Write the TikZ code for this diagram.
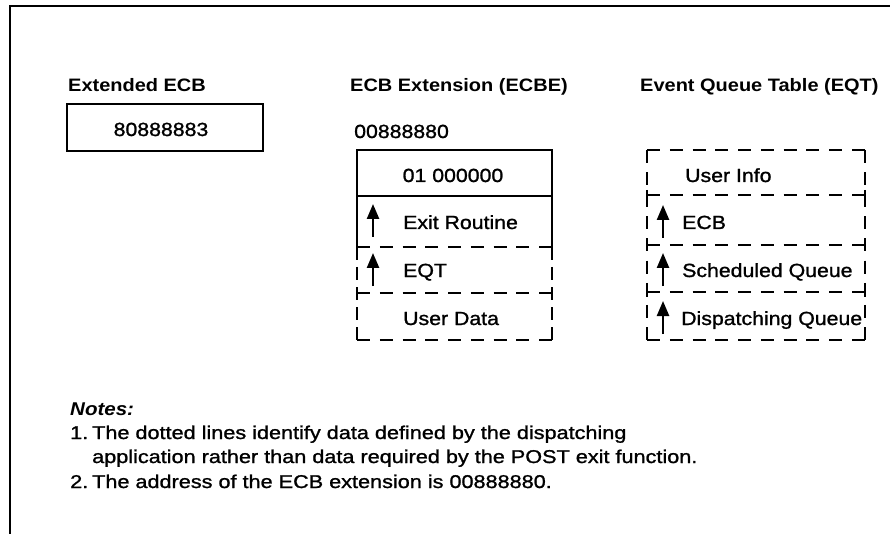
\documentclass[tikz,border=0pt]{standalone}
\usepackage{fontspec}
\setmainfont{Liberation Sans}[FakeStretch=1.12, FakeBold=1.2]
\newfontfamily\headfont{Liberation Sans}[FakeStretch=1.11]
\newfontfamily\notefont{Liberation Sans}[FakeStretch=1.17, FakeBold=1.2]
\usetikzlibrary{arrows.meta}
\begin{document}
\begin{tikzpicture}[x=1pt,y=-1pt,
  solidline/.style={line width=2.4pt},
  dashbase/.style={line width=2.4pt},
  dashEH/.style={dashbase, dash pattern=on 13pt off 9.75pt},
  dashEV/.style={dashbase, dash pattern=on 13pt off 7pt},
  dashQH/.style={dashbase, dash pattern=on 13pt off 9.78pt},
  dashQV/.style={dashbase, dash pattern=on 13pt off 9.125pt},
  tickline/.style={line width=2.4pt},
  uparrow/.style={line width=2.4pt, -{Triangle[width=12pt,length=15pt]}},
  title/.style={anchor=base west, inner sep=0pt, font=\headfont\bfseries\fontsize{18}{22}\selectfont},
  cell/.style={anchor=base west, inner sep=0pt, font=\fontsize{19}{23}\selectfont},
  note/.style={anchor=base west, inner sep=0pt, font=\notefont\fontsize{18.5}{25}\selectfont},
]
\useasboundingbox (0,0) rectangle (890,534);
\fill[white] (0,0) rectangle (890,534);

% frame
\coordinate (fb) at (10,534);
\coordinate (ftl) at (10,6);
\coordinate (fr) at (890,6);
\draw[solidline] (fb) -- (ftl) -- (fr);

% titles
\node[title] (t1) at (68,92) {Extended ECB};
\node[title] (t2) at (350,92) {ECB Extension (ECBE)};
\node[title] (t3) at (640,92) {Event Queue Table (EQT)};

% Extended ECB box
\node[draw, solidline, minimum width=196pt, minimum height=47pt, inner sep=0pt] (ecb) at (165,127.5) {};
\node[cell, anchor=base] (ecbval) at (161,136) {80888883};

% ECBE
\node[cell] (addr) at (354,138) {00888880};
\draw[solidline] (357,247) -- (357,150) -- (552,150) -- (552,247);
\draw[solidline] (357,196) -- (552,196);
\draw[dashEH] (357,247) -- (552,247);
\draw[dashEH] (357,293) -- (552,293);
\draw[dashEH] (357,340) -- (552,340);
\draw[dashEV] (357,247) -- (357,340);
\draw[dashEV] (552,247) -- (552,340);
\draw[tickline] (357,288) -- (357,298);
\draw[tickline] (552,288) -- (552,298);

\node[cell, anchor=base] (c1) at (453,182) {01 000000};
\node[cell] (c2) at (403,229) {Exit Routine};
\node[cell] (c3) at (403,277) {EQT};
\node[cell] (c4) at (403,325) {User Data};

\coordinate (a1s) at (373,237); \coordinate (a1e) at (373,204);
\coordinate (a2s) at (373,286); \coordinate (a2e) at (373,253);
\draw[uparrow] (a1s) -- (a1e);
\draw[uparrow] (a2s) -- (a2e);

% EQT
\draw[dashQH] (647,150) -- (865,150);
\draw[dashQH] (647,195) -- (865,195);
\draw[dashQH] (647,245) -- (865,245);
\draw[dashQH] (647,292) -- (865,292);
\draw[dashQH] (647,340) -- (865,340);
\draw[dashQV] (647,150) -- (647,340);
\draw[dashQV] (865,150) -- (865,340);
\foreach \yy in {195,245,292}{
  \draw[tickline] (647,\yy-5) -- (647,\yy+5);
  \draw[tickline] (865,\yy-5) -- (865,\yy+5);
}

\node[cell] (e1) at (685,182) {User Info};
\node[cell] (e2) at (682,229) {ECB};
\node[cell] (e3) at (682,277) {Scheduled Queue};
\node[cell] (e4) at (681,325) {Dispatching Queue};

\coordinate (b1s) at (663,238); \coordinate (b1e) at (663,205);
\coordinate (b2s) at (663,286); \coordinate (b2e) at (663,253);
\coordinate (b3s) at (663,334); \coordinate (b3e) at (663,301);
\draw[uparrow] (b1s) -- (b1e);
\draw[uparrow] (b2s) -- (b2e);
\draw[uparrow] (b3s) -- (b3e);

% notes
\node[note, font=\headfont\fontsize{18.5}{25}\selectfont\bfseries\itshape] (n0) at (70,415) {Notes:};
\node[note] (n1num) at (70,439) {1.};
\node[note] (n1) at (92,439) {The dotted lines identify data defined by the dispatching};
\node[note] (n2) at (92,463) {application rather than data required by the POST exit function.};
\node[note] (n3num) at (70,488) {2.};
\node[note] (n3) at (92,488) {The address of the ECB extension is 00888880.};
\end{tikzpicture}
\end{document}
